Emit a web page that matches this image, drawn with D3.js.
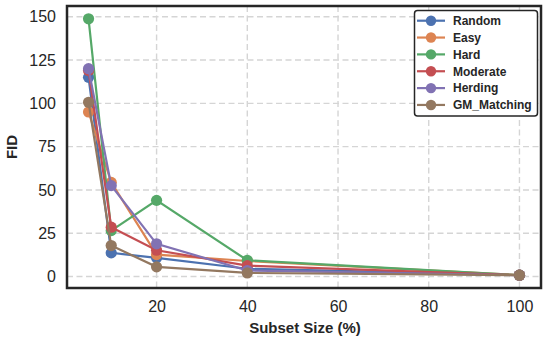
<!DOCTYPE html>
<html>
<head>
<meta charset="utf-8">
<script src="https://cdn.jsdelivr.net/npm/d3@7"></script>
<style>
  html, body { margin: 0; padding: 0; background: #fff; }
  svg { display: block; font-family: "Liberation Sans", Arial, sans-serif; }
</style>
</head>
<body>
<svg id="chart" width="548" height="343"></svg>
<script>
// subset sizes (%)
const sizes = [5, 10, 20, 40, 100]
const methods = ['Random', 'Easy', 'Hard', 'Moderate', 'Herding', 'GM_Matching']
const colors = ['#4C72B0', '#DD8452', '#55A868', '#C44E52', '#8172B3', '#937860']

// FID per method, same order as sizes
const random = [115, 13.7, 10.8, 4.5, 0.8]
const easy = [95, 54.4, 12.7, 9.0, 0.8]
const hard = [148.8, 26.5, 44, 9.4, 0.8]
const moderate = [119, 28.5, 15.2, 6.3, 0.8]
const herding = [120, 52.5, 18.9, 3.5, 0.8]
const gmMatching = [100.6, 17.9, 5.6, 2.1, 0.8]

const xTicks = [20, 40, 60, 80, 100]
const yTicks = [0, 25, 50, 75, 100, 125, 150]

const series = [random, easy, hard, moderate, herding, gmMatching].map((vals, i) => ({
  name: methods[i],
  color: colors[i],
  points: vals.map((v, j) => ({ x: sizes[j], y: v }))
}))

const svg = d3.select('#chart')
const plotL = 67, plotR = 541, plotT = 6, plotB = 288

const x = d3.scaleLinear().domain([0.25, 104.75]).range([plotL, plotR])
const y = d3.scaleLinear().domain([-6.6, 156.2]).range([plotB, plotT])

// grid
const grid = svg.append('g')
grid.selectAll('.gx').data(xTicks).enter().append('line')
  .attr('x1', d => x(d)).attr('x2', d => x(d))
  .attr('y1', plotT).attr('y2', plotB)
grid.selectAll('.gy').data(yTicks).enter().append('line')
  .attr('x1', plotL).attr('x2', plotR)
  .attr('y1', d => y(d)).attr('y2', d => y(d))
grid.selectAll('line')
  .attr('stroke', '#d5d5d5')
  .attr('stroke-width', 1.4)
  .attr('stroke-dasharray', '6,3.5')

// axes (ticks only as labels)
const xAxis = svg.append('g')
  .attr('transform', `translate(0,${plotB})`)
  .call(d3.axisBottom(x).tickValues(xTicks).tickSize(0).tickPadding(13))
const yAxis = svg.append('g')
  .attr('transform', `translate(${plotL},0)`)
  .call(d3.axisLeft(y).tickValues(yTicks).tickSize(0).tickPadding(11))
;[xAxis, yAxis].forEach(a => {
  a.select('.domain').remove()
  a.selectAll('text')
    .attr('font-size', 16)
    .attr('font-family', '"Liberation Sans", Arial, sans-serif')
    .attr('fill', '#262626')
})

// lines
const line = d3.line().x(d => x(d.x)).y(d => y(d.y))
const groups = svg.append('g').selectAll('.series')
  .data(series).enter().append('g')

groups.append('path')
  .attr('d', d => line(d.points))
  .attr('fill', 'none')
  .attr('stroke', d => d.color)
  .attr('stroke-width', 2.2)

groups.selectAll('circle')
  .data(d => d.points.map(p => ({ ...p, color: d.color })))
  .enter().append('circle')
  .attr('cx', d => x(d.x))
  .attr('cy', d => y(d.y))
  .attr('r', 5.6)
  .attr('fill', d => d.color)

// frame
svg.append('rect')
  .attr('x', plotL).attr('y', plotT)
  .attr('width', plotR - plotL).attr('height', plotB - plotT)
  .attr('fill', 'none')
  .attr('stroke', '#262626')
  .attr('stroke-width', 2.5)

// axis titles
svg.append('text')
  .attr('x', (plotL + plotR) / 2 + 1)
  .attr('y', 333)
  .attr('text-anchor', 'middle')
  .attr('font-size', 15)
  .attr('font-weight', 'bold')
  .attr('fill', '#262626')
  .text('Subset Size (%)')

svg.append('text')
  .attr('transform', `translate(17,${(plotT + plotB) / 2}) rotate(-90)`)
  .attr('text-anchor', 'middle')
  .attr('font-size', 15)
  .attr('font-weight', 'bold')
  .attr('fill', '#262626')
  .text('FID')

// legend
const legend = svg.append('g')
legend.append('rect')
  .attr('x', 414.5).attr('y', 10.5)
  .attr('width', 123).attr('height', 105.5)
  .attr('rx', 3)
  .attr('fill', '#fff')
  .attr('stroke', '#262626')
  .attr('stroke-width', 1.5)

const items = legend.selectAll('.item').data(series).enter().append('g')
  .attr('transform', (d, i) => `translate(0,${20.7 + i * 16.85})`)
items.append('line')
  .attr('x1', 417).attr('x2', 445)
  .attr('stroke', d => d.color).attr('stroke-width', 2.2)
items.append('circle')
  .attr('cx', 431).attr('r', 5.2)
  .attr('fill', d => d.color)
items.append('text')
  .attr('x', 453).attr('dy', '0.36em')
  .attr('font-size', 12)
  .attr('font-weight', 'bold')
  .attr('fill', '#262626')
  .text(d => d.name)
</script>
</body>
</html>
